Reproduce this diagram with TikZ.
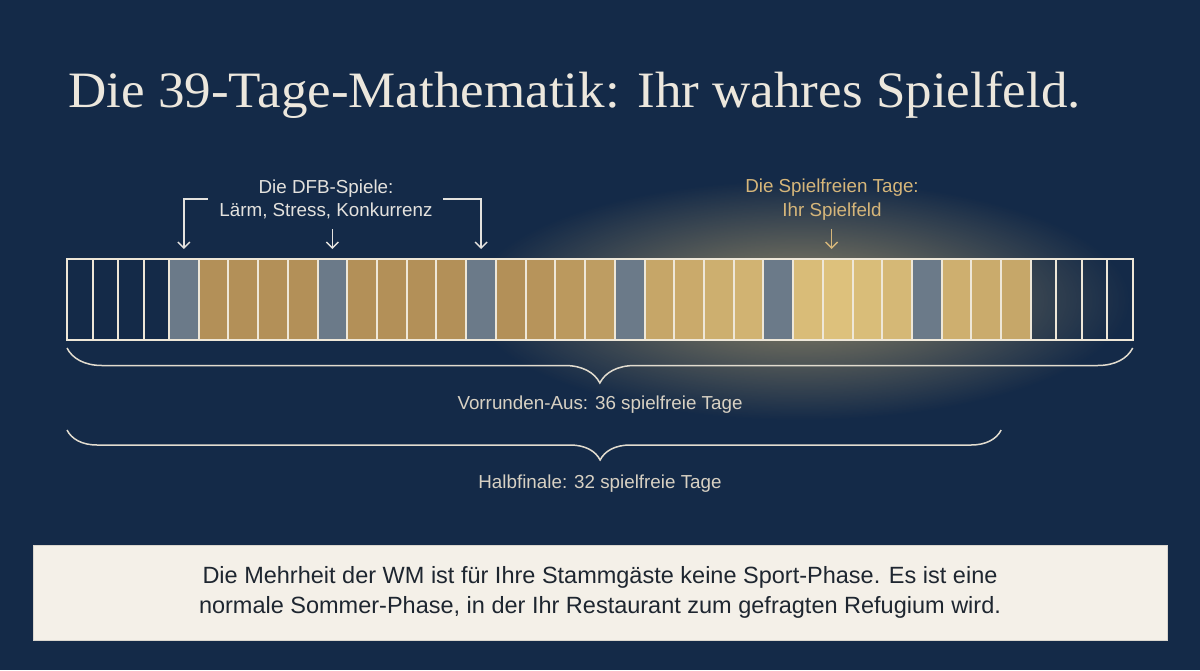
\documentclass[tikz,border=0pt]{standalone}
\usepackage{fontspec}
\setmainfont{Liberation Sans}
\newfontfamily\titlefont[FakeStretch=1.04]{Liberation Serif}
\usetikzlibrary{arrows.meta,calc,fadings,decorations.pathreplacing}
\definecolor{navy}{HTML}{142A48}
\definecolor{titlec}{HTML}{ECE7DD}
\definecolor{lblc}{HTML}{E4E2DE}
\definecolor{goldtxt}{HTML}{D6B67A}
\definecolor{goldlo}{HTML}{B39058}
\definecolor{goldhi}{HTML}{DDC17C}
\definecolor{slate}{HTML}{6B7A89}
\definecolor{cellline}{HTML}{EEE7D8}
\definecolor{glowc}{HTML}{E2C27A}
\definecolor{bracec}{HTML}{E2DCCF}
\definecolor{bracetxt}{HTML}{D8D1C3}
\definecolor{boxfill}{HTML}{F4F0E8}
\definecolor{boxline}{HTML}{DAD6CE}
\definecolor{boxtxt}{HTML}{1E2630}
\tikzfading[name=glowfade, inner color=transparent!0, outer color=transparent!100]
\tikzset{
  cell/.style={draw=cellline, line width=2pt, minimum height=81pt, inner sep=0pt, outer sep=0pt},
  arr/.style={-{Straight Barb[length=6pt,width=12pt]}, line width=1.4pt},
  lbl/.style={align=center, inner sep=0pt, font=\fontsize{18.8}{23.5}\selectfont},
  bracetext/.style={inner sep=0pt, text=bracetxt, font=\fontsize{18.8}{22}\selectfont},
  bracepath/.style={draw=bracec, line width=1.5pt, decorate}
}
\begin{document}
\begin{tikzpicture}[x=1pt,y=-1pt]
\useasboundingbox (0,0) rectangle (1200,670);
\fill[navy] (0,0) rectangle (1200,670);
% glow behind strip
\fill[glowc, opacity=0.6, path fading=glowfade] (470,180) rectangle (1130,420);
% title
\node[anchor=base west, inner sep=0pt, text=titlec] (title) at (68,107)
  {\titlefont\fontsize{51}{57}\selectfont Die 39-Tage-Mathematik: Ihr wahres Spielfeld.};
% left white cells
\foreach \i in {1,...,4} {
  \node[cell, minimum width=25.5pt] (c\i) at ({67+25.5*(\i-0.5)},299.5) {};
}
% coloured cells
\foreach \j in {0,...,28} {
  \pgfmathtruncatemacro\k{\j+5}
  \pgfmathsetmacro\cx{169+29.72*(\j+0.5)}
  \pgfmathtruncatemacro\t{max(0,100*(1-abs(\cx-840)/330))}
  \pgfmathtruncatemacro\isgray{mod(\j,5)==0 ? 1 : 0}
  \ifnum\isgray=1 \def\cf{slate}\else\edef\cf{goldhi!\t!goldlo}\fi
  \node[cell, minimum width=29.72pt, fill=\cf] (c\k) at (\cx,299.5) {};
}
% right white cells
\foreach \i in {34,...,37} {
  \node[cell, minimum width=25.45pt] (c\i) at ({1030.88+25.45*(\i-33.5)},299.5) {};
}

% DFB label and arrows
\node[lbl, text=lblc] (dfb) at (326,199.5) {Die DFB-Spiele:\\Lärm, Stress, Konkurrenz};
\coordinate (bl) at (208,199);
\coordinate (br) at (443,199);
\coordinate (bm) at ($(c10.north)+(0,-30)$);
\draw[arr, draw=lblc, shorten >=10pt] (bl) -| (c5.north);
\draw[arr, draw=lblc, shorten >=10pt] (br) -| (c15.north);
\draw[arr, draw=lblc, shorten >=10pt] (bm) -- (c10.north);

% Spielfreie Tage label and arrow
\node[lbl, text=goldtxt] (spf) at (832,199.5) {Die Spielfreien Tage:\\Ihr Spielfeld};
\coordinate (sa) at (831.7,229);
\coordinate (sb) at (831.7,249);
\draw[arr, draw=goldtxt] (sa) -- (sb);

% braces
\coordinate (b1s) at ($(c1.south west)+(0,8)$);
\coordinate (b1e) at ($(c37.south east)+(0,8)$);
\draw[bracepath, decoration={brace, mirror, amplitude=35pt}] (b1s) -- (b1e);
\node[bracetext] (v36) at (600,405) {Vorrunden-Aus: 36 spielfreie Tage};
\coordinate (b2s) at ($(c1.south west)+(0,90)$);
\coordinate (b2e) at ($(c32.south east)+(0,90)$);
\draw[bracepath, decoration={brace, mirror, amplitude=30pt, aspect=0.5707}] (b2s) -- (b2e);
\node[bracetext] (h32) at (600,484) {Halbfinale: 32 spielfreie Tage};

% bottom note
\node[draw=boxline, line width=1pt, fill=boxfill, minimum width=1134pt, minimum height=95pt,
      align=center, text=boxtxt, font=\fontsize{23.5}{29.5}\selectfont] (note) at (600,592.5)
  {Die Mehrheit der WM ist für Ihre Stammgäste keine Sport-Phase. Es ist eine\\normale Sommer-Phase, in der Ihr Restaurant zum gefragten Refugium wird.};
\end{tikzpicture}
\end{document}
